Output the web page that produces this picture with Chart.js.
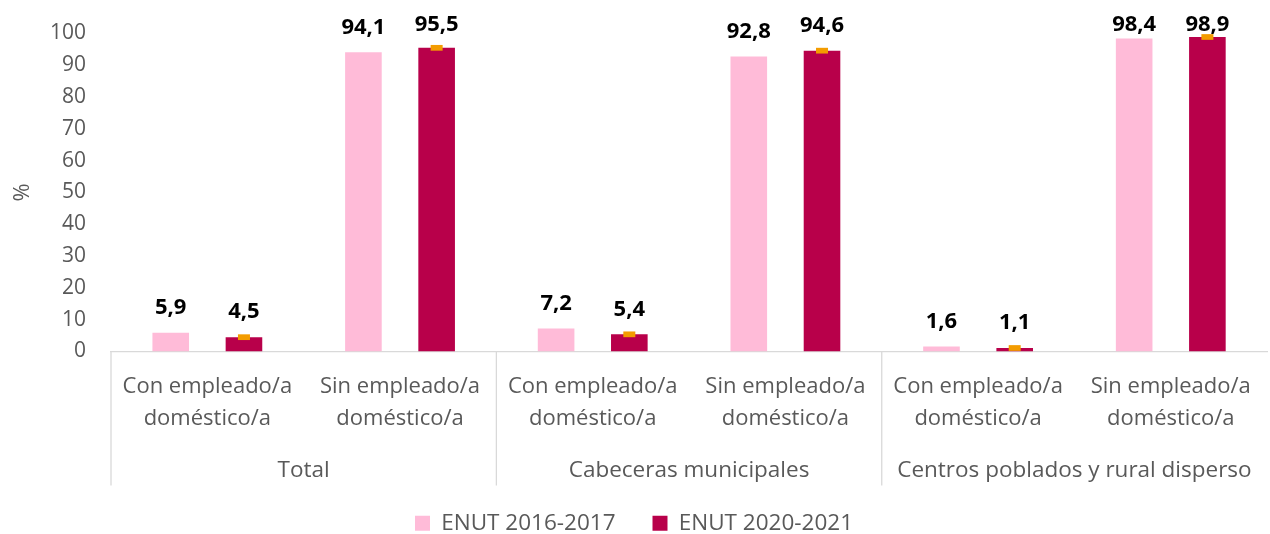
<!DOCTYPE html>
<html>
<head>
<meta charset="utf-8">
<script src="https://cdn.jsdelivr.net/npm/chart.js@4/dist/chart.umd.min.js"></script>
<style>
  html, body { margin: 0; padding: 0; background: #fff; }
  #wrap { width: 1270px; height: 534px; }
</style>
</head>
<body>
<div id="wrap"><canvas id="barchart"></canvas></div>
<script>
// Categories (first level) and groups (second level)
const categorias = [
  ['Con empleado/a', 'doméstico/a'], ['Sin empleado/a', 'doméstico/a'],
  ['Con empleado/a', 'doméstico/a'], ['Sin empleado/a', 'doméstico/a'],
  ['Con empleado/a', 'doméstico/a'], ['Sin empleado/a', 'doméstico/a']
];
const grupos = ['Total', 'Cabeceras municipales', 'Centros poblados y rural disperso'];

// Series values
const enut2017 = [5.9, 94.1, 7.2, 92.8, 1.6, 98.4];
const enut2021 = [4.5, 95.5, 5.4, 94.6, 1.1, 98.9];
// Error margin shown on the 2020-2021 bars
const margen2021 = [0.9, 0.9, 0.9, 0.9, 0.9, 0.9];

const yTicks = [0, 10, 20, 30, 40, 50, 60, 70, 80, 90, 100];

const gris = '#595959';
const fuente = "'Open Sans', 'Noto Sans', sans-serif";

// Plugin: separators, group labels, error marks, data labels
const extras = {
  id: 'extras',
  afterDatasetsDraw(chart) {
    const ctx = chart.ctx;
    const x = chart.scales.x;
    const y = chart.scales.y;
    const area = chart.chartArea;
    ctx.save();

    // error marks on dark bars
    const meta2 = chart.getDatasetMeta(1);
    ctx.fillStyle = '#F39C00';
    meta2.data.forEach((bar, i) => {
      const top = y.getPixelForValue(enut2021[i] + margen2021[i]);
      const bot = y.getPixelForValue(enut2021[i] - margen2021[i]);
      ctx.fillRect(bar.x - 6, top, 12, bot - top);
    });

    // data labels
    ctx.fillStyle = '#000';
    ctx.font = 'bold 22px ' + fuente;
    ctx.textAlign = 'center';
    ctx.textBaseline = 'middle';
    [0, 1].forEach(d => {
      const vals = d === 0 ? enut2017 : enut2021;
      chart.getDatasetMeta(d).data.forEach((bar, i) => {
        const ty = Math.max(bar.y - 25, 25);
        ctx.fillText(vals[i].toFixed(1).replace('.', ','), bar.x, ty);
      });
    });

    // group separators and labels
    const bottom = area.bottom;
    ctx.strokeStyle = '#d9d9d9';
    ctx.lineWidth = 1.3;
    const bounds = [x.left];
    for (let g = 1; g < grupos.length; g++) {
      bounds.push((x.getPixelForValue(2 * g - 1) + x.getPixelForValue(2 * g)) / 2);
    }
    bounds.forEach(bx => {
      ctx.beginPath();
      ctx.moveTo(bx, bottom);
      ctx.lineTo(bx, bottom + 134);
      ctx.stroke();
    });
    ctx.fillStyle = gris;
    ctx.font = '22.5px ' + fuente;
    grupos.forEach((g, k) => {
      const cx = (x.getPixelForValue(2 * k) + x.getPixelForValue(2 * k + 1)) / 2;
      ctx.fillText(g, cx, bottom + 119);
    });
    ctx.restore();
  }
};

const data = {
  labels: categorias,
  datasets: [
    {
      label: 'ENUT 2016-2017',
      data: enut2017,
      backgroundColor: '#FFBBD8',
      categoryPercentage: 0.76,
      barPercentage: 0.5
    },
    {
      label: 'ENUT 2020-2021',
      data: enut2021,
      backgroundColor: '#B8004A',
      categoryPercentage: 0.76,
      barPercentage: 0.5
    }
  ]
};

new Chart(document.getElementById('barchart'), {
  type: 'bar',
  data: data,
  plugins: [extras],
  options: {
    responsive: true,
    maintainAspectRatio: false,
    animation: false,
    layout: { padding: { top: 33.5, right: 2, left: 0, bottom: 0 } },
    plugins: {
      tooltip: { enabled: false },
      legend: {
        position: 'bottom',
        maxHeight: 59,
        labels: {
          boxWidth: 15,
          boxHeight: 15,
          padding: 37,
          color: gris,
          font: { family: fuente, size: 22.5 }
        }
      }
    },
    scales: {
      x: {
        grid: { display: false, drawTicks: false },
        border: { color: '#d9d9d9', width: 1.3 },
        ticks: {
          color: gris,
          font: { family: fuente, size: 22, lineHeight: 1.45 },
          padding: 19,
          maxRotation: 0,
          autoSkip: false
        },
        afterFit(scale) { scale.height = 123.5; }
      },
      y: {
        min: 0,
        max: 100,
        afterBuildTicks(scale) { scale.ticks = yTicks.map(v => ({ value: v })); },
        grid: { display: false, drawTicks: false },
        border: { display: false },
        ticks: {
          color: gris,
          font: { family: fuente, size: 21 },
          padding: 25
        },
        title: {
          display: true,
          text: '%',
          color: gris,
          font: { family: fuente, size: 22 },
          padding: { top: 10, bottom: 0 }
        },
        afterFit(scale) {
          scale.width = 111;
          scale.paddingTop = 0;
          scale.paddingBottom = 0;
        }
      }
    }
  }
});
</script>
</body>
</html>
